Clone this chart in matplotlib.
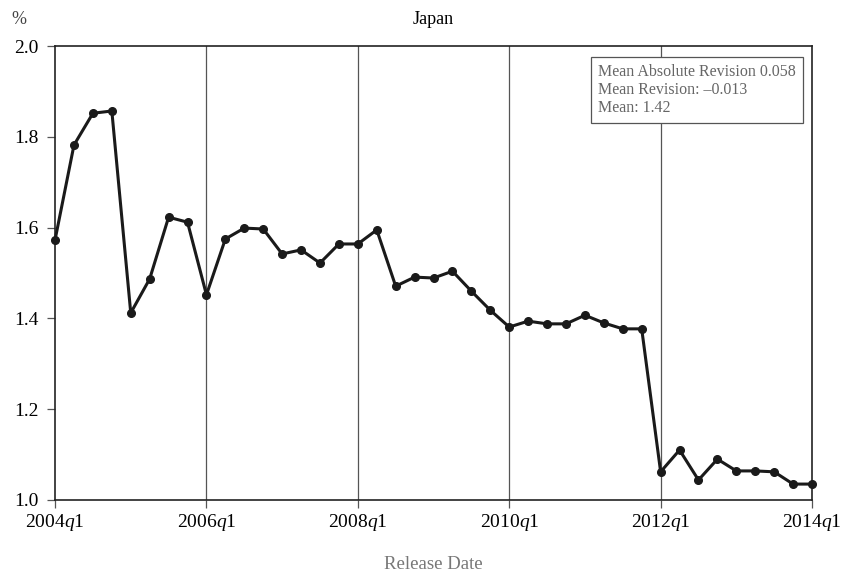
import numpy as np
import matplotlib
matplotlib.use("Agg")
import matplotlib.pyplot as plt

plt.rcParams['font.family'] = ['Liberation Serif', 'DejaVu Serif']
plt.rcParams['mathtext.fontset'] = 'custom'
plt.rcParams['mathtext.it'] = 'Liberation Serif:italic'
plt.rcParams['mathtext.rm'] = 'Liberation Serif'

# quarterly release dates, 2004q1 .. 2014q1
quarters = np.arange(41)
values = [1.573, 1.782, 1.852, 1.857, 1.412, 1.487, 1.623, 1.612, 1.452,
          1.575, 1.599, 1.597, 1.542, 1.551, 1.522, 1.564, 1.564, 1.595,
          1.471, 1.491, 1.489, 1.504, 1.460, 1.418, 1.381, 1.394, 1.388,
          1.388, 1.407, 1.390, 1.377, 1.377, 1.062, 1.110, 1.044, 1.090,
          1.064, 1.064, 1.062, 1.035, 1.035]
tick_pos = [0, 8, 16, 24, 32, 40]
tick_lab = ["2004$\\mathit{q}$1", "2006$\\mathit{q}$1", "2008$\\mathit{q}$1",
            "2010$\\mathit{q}$1", "2012$\\mathit{q}$1", "2014$\\mathit{q}$1"]
stats = "Mean Absolute Revision 0.058\nMean Revision: \u20130.013\nMean: 1.42"

fig = plt.figure(figsize=(8.47, 5.76), dpi=100)
ax = fig.add_axes([0.065, 0.132, 0.8937, 0.788])

for p in tick_pos[1:-1]:
    ax.axvline(p, color="#555555", lw=0.9, zorder=1)

ax.plot(quarters, values, "-o", color="#1a1a1a", lw=2.2, ms=5.5, zorder=3, clip_on=False)

ax.set_xlim(0, 40)
ax.set_ylim(1.0, 2.0)
ax.set_xticks(tick_pos)
ax.set_xticklabels(tick_lab)
ax.set_yticks([1.0, 1.2, 1.4, 1.6, 1.8, 2.0])
ax.set_yticklabels(["1.0", "1.2", "1.4", "1.6", "1.8", "2.0"])
ax.tick_params(labelsize=14, length=6, width=0.9, color="#555555", pad=6)
ax.tick_params(axis="x", pad=3)
for s in ax.spines.values():
    s.set_color("#222222")
    s.set_linewidth(1.2)

ax.set_xlabel("Release Date", fontsize=13.5, color="#777777", labelpad=16)
ax.set_title("Japan", fontsize=13, pad=16)
fig.text(0.014, 0.966, "%", fontsize=13, color="#444444", ha="left", va="center")

ax.text(0.717, 0.96, stats, transform=ax.transAxes, fontsize=11.5, color="#666666",
        va="top", ha="left", linespacing=1.15,
        bbox=dict(boxstyle="square,pad=0.45", fc="white", ec="#555555", lw=0.9))

fig.savefig("out.png", dpi=100)
